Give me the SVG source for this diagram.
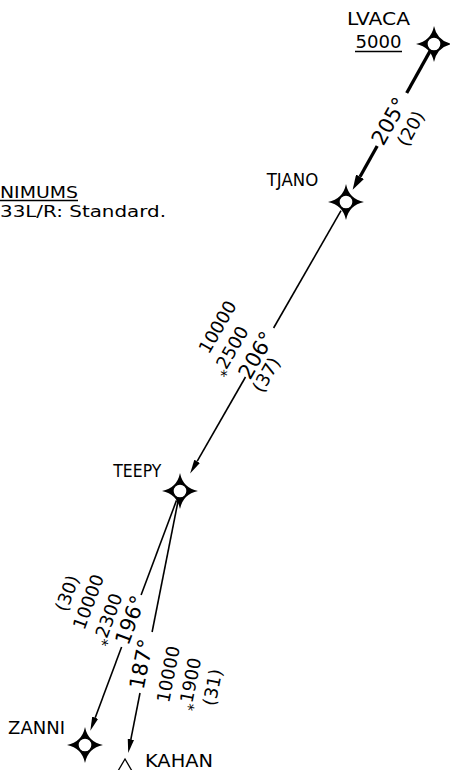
<svg xmlns="http://www.w3.org/2000/svg" width="450" height="770" viewBox="0 0 450 770">
<style>
text{font-family:"DejaVu Sans","Liberation Sans",sans-serif;fill:#000}
.lbl{font-size:18px}
.mn{font-size:15.5px}
.crs{font-size:21px;text-anchor:middle}
.sm{font-size:18px;text-anchor:middle}
.ast{font-size:15px}
.thin{stroke:#000;stroke-width:1.6;fill:none}
.thick{stroke:#000;stroke-width:3.3;fill:none}
.ul{stroke:#000;stroke-width:1.3}
</style>
<defs>
<marker id="ah" markerUnits="userSpaceOnUse" markerWidth="14" markerHeight="7" viewBox="0 0 14 7" refX="0" refY="3.5" orient="auto"><path d="M0,0.3 L14,3.5 L0,6.7 Z"/></marker>
<marker id="ahk" markerUnits="userSpaceOnUse" markerWidth="15" markerHeight="9" viewBox="0 0 15 9" refX="0" refY="4.5" orient="auto"><path d="M0,0 L15,4.5 L0,9 Z"/></marker>
<g id="wp"><path d="M0,-18 Q3,-3 18,0 Q3,3 0,18 Q-3,3 -18,0 Q-3,-3 0,-18 Z" fill="#000"/><circle r="7" fill="#fff" stroke="#000" stroke-width="1.3"/></g>
</defs>
<rect width="450" height="770" fill="#fff"/>

<g id="minimums">
<text class="mn" x="0" y="197.5" textLength="78" lengthAdjust="spacingAndGlyphs">NIMUMS</text>
<line class="ul" x1="0" y1="200.5" x2="78" y2="200.5"/>
<text class="mn" x="0" y="216.5" textLength="166" lengthAdjust="spacingAndGlyphs">33L/R: Standard.</text>
</g>

<g id="connectors">
<line class="thick" x1="430.6" y1="50.1" x2="406.7" y2="93"/>
<line class="thick" x1="377.2" y1="146" x2="360" y2="176.7" marker-end="url(#ahk)"/>
<line class="thin" x1="341" y1="210.7" x2="273.6" y2="328"/>
<line class="thin" x1="245.5" y1="377" x2="197.1" y2="461.3" marker-end="url(#ah)"/>
<line class="thin" x1="176.5" y1="500.4" x2="141.1" y2="595"/>
<line class="thin" x1="121.6" y1="647" x2="95.2" y2="717.7" marker-end="url(#ah)"/>
<line class="thin" x1="178.1" y1="500.8" x2="152.1" y2="632"/>
<line class="thin" x1="140" y1="693" x2="130.9" y2="739.2" marker-end="url(#ah)"/>
</g>

<g id="leg-labels">
<g transform="translate(389,121) rotate(-60.9)">
<text class="crs" x="0" y="7.5">205°</text>
<text class="sm" x="4" y="29">(20)</text>
</g>
<g transform="translate(256,355) rotate(-60.1)">
<text class="sm" x="5" y="-41">10000</text>
<text class="sm" x="-9" y="-18"><tspan class="ast" dy="7">*</tspan><tspan dy="-7">2500</tspan></text>
<text class="crs" x="0" y="7.5">206°</text>
<text class="sm" x="-12" y="25">(37)</text>
</g>
<g transform="translate(130,620) rotate(-69.5)">
<text class="crs" x="0" y="7.5">196°</text>
<text class="sm" x="-7" y="-15"><tspan class="ast" dy="7">*</tspan><tspan dy="-7">2300</tspan></text>
<text class="sm" x="2.5" y="-39">10000</text>
<text class="sm" x="3" y="-62">(30)</text>
</g>
<g transform="translate(141,664) rotate(-78.8)">
<text class="crs" x="0" y="7.5">187°</text>
<text class="sm" x="-4.6" y="35">10000</text>
<text class="sm" x="-10" y="58"><tspan class="ast" dy="7">*</tspan><tspan dy="-7">1900</tspan></text>
<text class="sm" x="-9" y="81">(31)</text>
</g>
</g>

<g id="LVACA">
<use href="#wp" x="434" y="44"/>
<text class="lbl" x="378.5" y="25" text-anchor="middle" textLength="63" lengthAdjust="spacingAndGlyphs">LVACA</text>
<text class="lbl" x="378.5" y="48" text-anchor="middle" textLength="46" lengthAdjust="spacingAndGlyphs">5000</text>
<line class="ul" x1="355" y1="51.5" x2="402" y2="51.5"/>
</g>
<g id="TJANO">
<use href="#wp" x="346" y="202"/>
<text class="lbl" x="266.7" y="186" textLength="51.5" lengthAdjust="spacingAndGlyphs">TJANO</text>
</g>
<g id="TEEPY">
<use href="#wp" x="180" y="491"/>
<text class="lbl" x="113.3" y="477" textLength="48" lengthAdjust="spacingAndGlyphs">TEEPY</text>
</g>
<g id="ZANNI">
<use href="#wp" x="85" y="745"/>
<text class="lbl" x="65" y="734" text-anchor="end">ZANNI</text>
</g>
<g id="KAHAN">
<polygon points="125,759 118,771 132,771" fill="#fff" stroke="#000" stroke-width="1.3"/>
<text class="lbl" x="145" y="767" textLength="68" lengthAdjust="spacingAndGlyphs">KAHAN</text>
</g>
</svg>
